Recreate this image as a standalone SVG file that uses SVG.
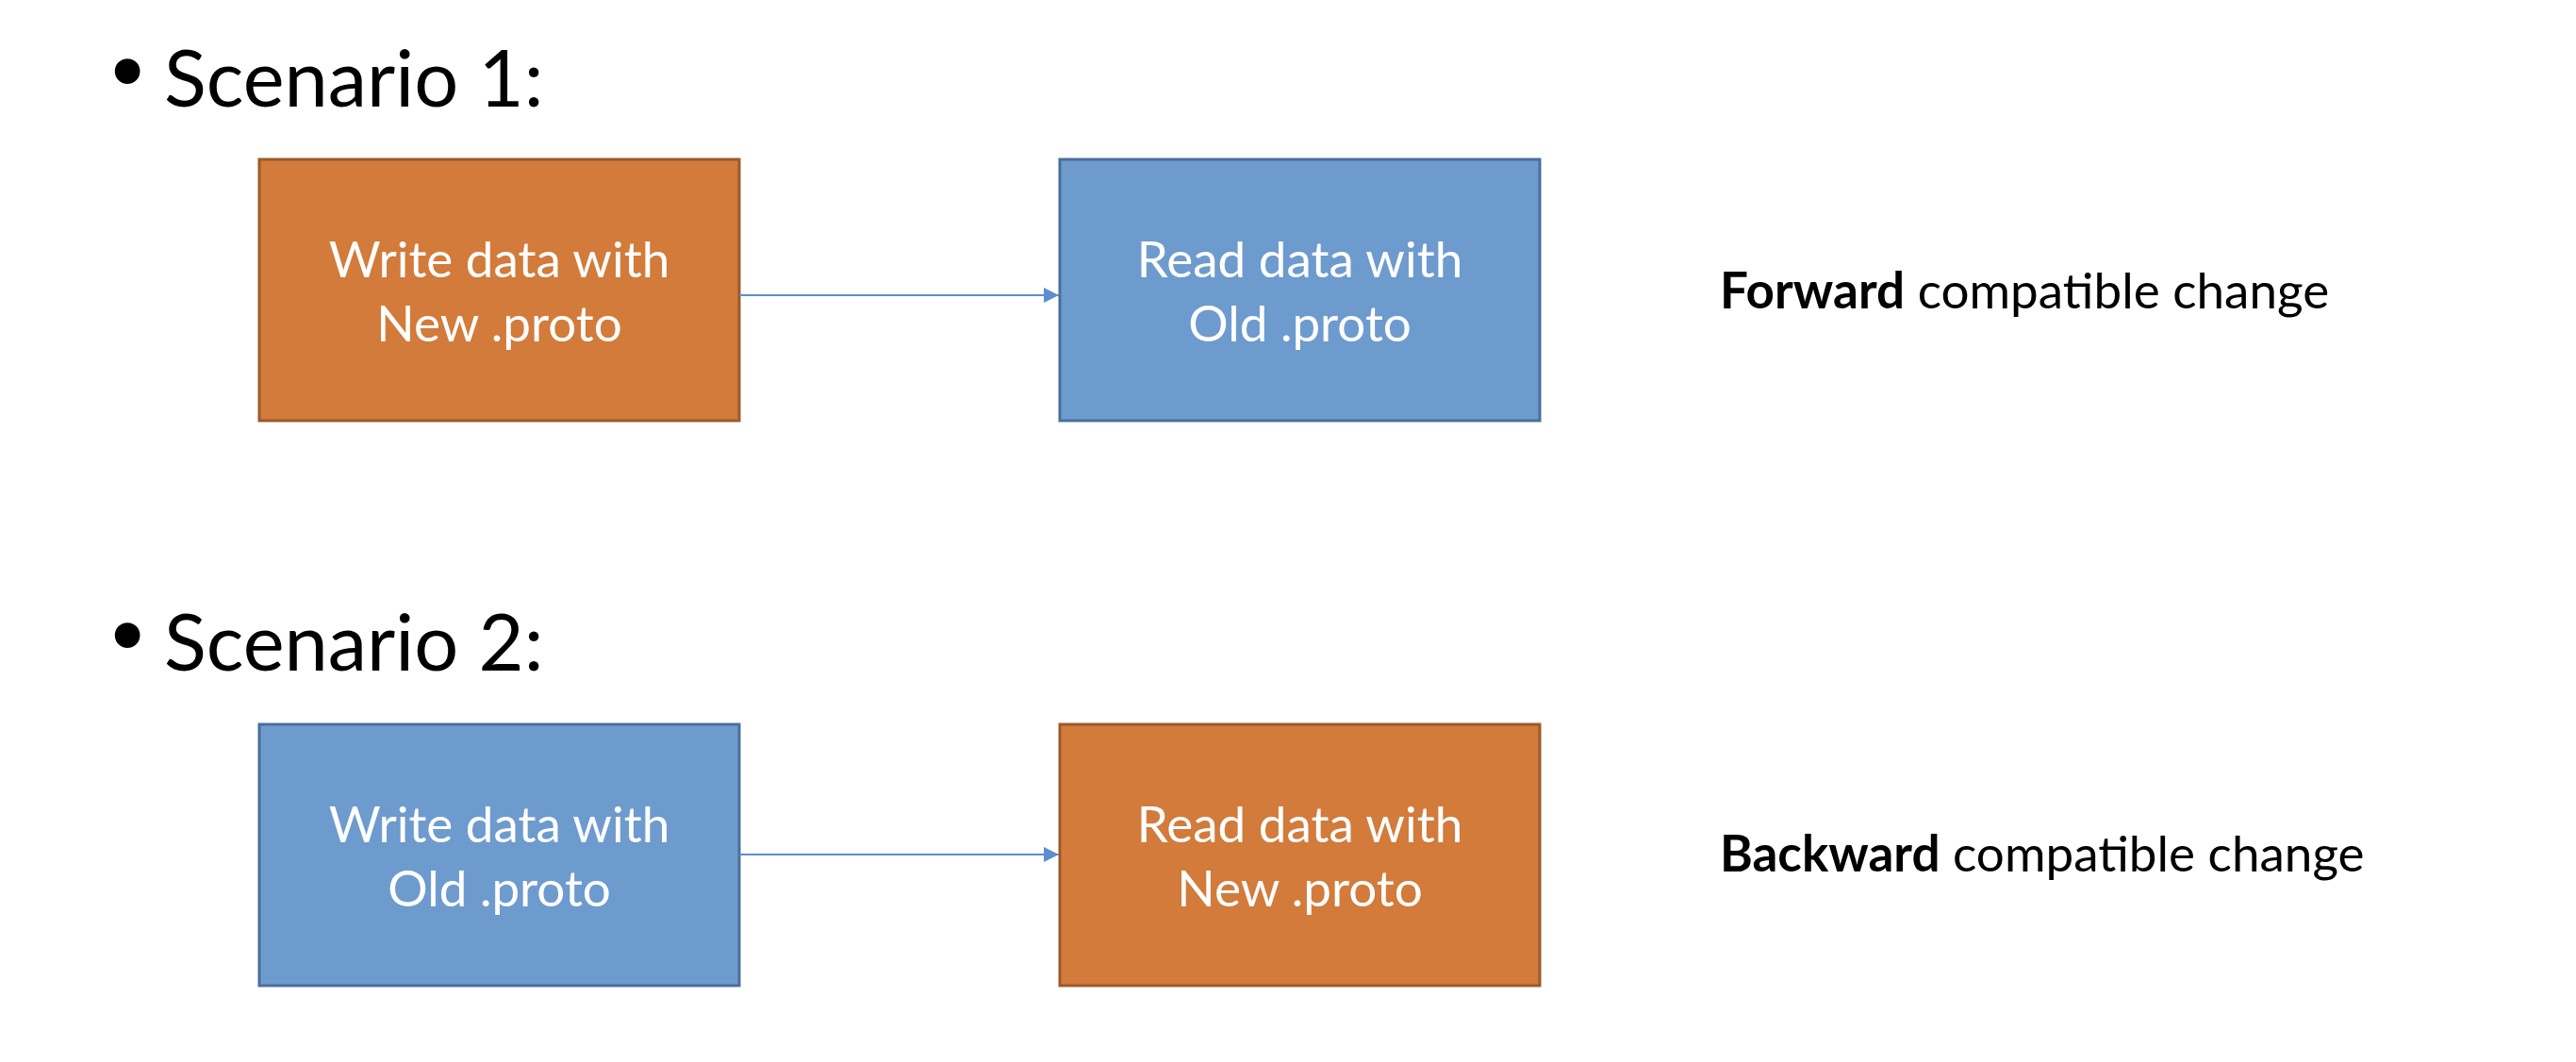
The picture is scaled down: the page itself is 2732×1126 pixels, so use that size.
<svg xmlns="http://www.w3.org/2000/svg" width="2732" height="1126" viewBox="0 0 2732 1126">
  <style>
    .title { font-family: "Lato", "Liberation Sans", sans-serif; font-size: 83px; fill: #000; }
    .bullet { font-family: "DejaVu Sans", sans-serif; font-size: 92px; fill: #000; }
    .node-new rect { fill: #D27B3B; stroke: #9C5A2A; stroke-width: 3; }
    .node-old rect { fill: #6E9BCE; stroke: #4B6E9B; stroke-width: 3; }
    .label { font-family: "Lato", "Liberation Sans", sans-serif; font-size: 53px; fill: #FFFFFF; text-anchor: middle; }
    .note { font-family: "Lato", "Liberation Sans", sans-serif; font-size: 53px; fill: #000; }
    .note .strong { font-weight: bold; }
    .conn { stroke: #5B8ED0; stroke-width: 2; fill: none; marker-end: url(#arrow); }
  </style>
  <defs>
    <marker id="arrow" viewBox="0 0 10 10" refX="10" refY="5" markerWidth="16" markerHeight="16" markerUnits="userSpaceOnUse" orient="auto">
      <path d="M0,0 L10,5 L0,10 Z" fill="#5B8ED0"/>
    </marker>
  </defs>

  <rect width="2732" height="1126" fill="#FFFFFF"/>

  <!-- Scenario 1 heading -->
  <g id="heading-1">
    <text class="bullet" x="108" y="110">•</text>
    <text class="title" x="174" y="113">Scenario 1:</text>
  </g>

  <!-- Scenario 2 heading -->
  <g id="heading-2">
    <text class="bullet" x="108" y="708">•</text>
    <text class="title" x="174" y="711">Scenario 2:</text>
  </g>

  <!-- Scenario 1 nodes -->
  <g id="write-new" class="node-new">
    <rect x="275" y="169" width="509" height="277"/>
    <text class="label" x="529.5" y="294">Write data with</text>
    <text class="label" x="529.5" y="362">New .proto</text>
  </g>
  <g id="read-old" class="node-old">
    <rect x="1124" y="169" width="509" height="277"/>
    <text class="label" x="1378.5" y="294">Read data with</text>
    <text class="label" x="1378.5" y="362">Old .proto</text>
  </g>
  <g id="forward-note">
    <text class="note" x="1824" y="327"><tspan class="strong">Forward</tspan> compatible change</text>
  </g>

  <!-- Scenario 2 nodes -->
  <g id="write-old" class="node-old">
    <rect x="275" y="768" width="509" height="277"/>
    <text class="label" x="529.5" y="893">Write data with</text>
    <text class="label" x="529.5" y="961">Old .proto</text>
  </g>
  <g id="read-new" class="node-new">
    <rect x="1124" y="768" width="509" height="277"/>
    <text class="label" x="1378.5" y="893">Read data with</text>
    <text class="label" x="1378.5" y="961">New .proto</text>
  </g>
  <g id="backward-note">
    <text class="note" x="1824" y="924"><tspan class="strong">Backward</tspan> compatible change</text>
  </g>

  <!-- Connectors -->
  <g id="connectors">
    <line class="conn" x1="784" y1="313" x2="1123" y2="313"/>
    <line class="conn" x1="784" y1="906" x2="1123" y2="906"/>
  </g>
</svg>
